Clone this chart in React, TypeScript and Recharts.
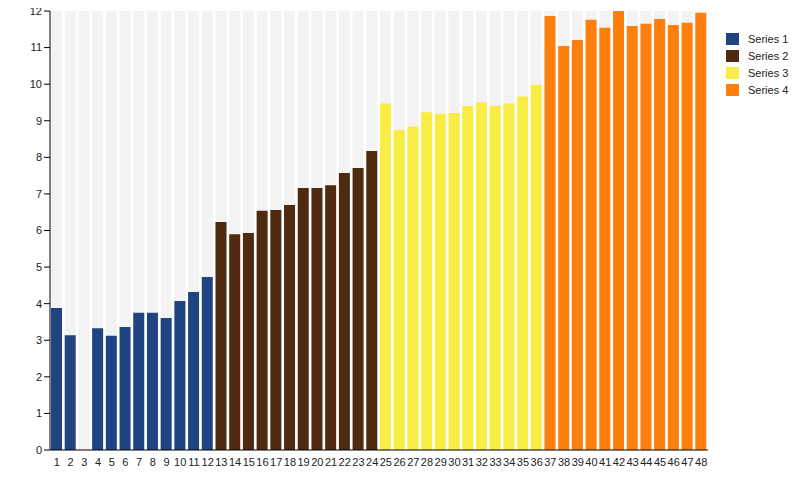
import React from 'react';
import { BarChart, Bar, XAxis, YAxis } from 'recharts';

const categories = Array.from({ length: 48 }, (_, i) => String(i + 1));

const series1 = [3.88, 3.14, null, 3.33, 3.12, 3.36, 3.75, 3.75, 3.61, 4.07, 4.32, 4.73];
const series2 = [6.23, 5.9, 5.93, 6.54, 6.56, 6.7, 7.16, 7.16, 7.24, 7.57, 7.71, 8.17];
const series3 = [9.47, 8.75, 8.84, 9.23, 9.19, 9.21, 9.4, 9.5, 9.41, 9.47, 9.66, 9.98];
const series4 = [11.86, 11.04, 11.21, 11.76, 11.54, 12.0, 11.59, 11.65, 11.78, 11.62, 11.68, 11.95];

const yMax = 12;
const yTicks = [0, 1, 2, 3, 4, 5, 6, 7, 8, 9, 10, 11, 12];

const seriesInfo = [
  { key: 's1', name: 'Series 1', color: '#1f4481', values: series1 },
  { key: 's2', name: 'Series 2', color: '#4f2a0e', values: series2 },
  { key: 's3', name: 'Series 3', color: '#f8ec45', values: series3 },
  { key: 's4', name: 'Series 4', color: '#ff7f0e', values: series4 },
];

const data = categories.map((name, i) => {
  const row: Record<string, any> = { name, bg: yMax };
  const group = Math.floor(i / 12);
  seriesInfo.forEach((s, g) => {
    row[s.key] = g === group ? s.values[i % 12] : null;
  });
  return row;
});

const font = '"Liberation Sans", Arial, sans-serif';

const App = () => {
  return (
    <div style={{ position: 'relative', width: 800, height: 477, marginTop: -7 }}>
      <BarChart
        width={800}
        height={477}
        data={data}
        margin={{ top: 10, right: 100, left: 0, bottom: 8 }}
      >
        <XAxis xAxisId="bg" dataKey="name" hide />
        <XAxis
          dataKey="name"
          tickLine={false}
          axisLine={{ stroke: '#000' }}
          tick={{ fill: '#222', fontSize: 11, fontFamily: font }}
          interval={0}
          height={20}
          tickMargin={2}
        />
        <YAxis
          width={42}
          domain={[0, yMax]}
          ticks={yTicks}
          interval={0}
          axisLine={{ stroke: '#000' }}
          tickLine={{ stroke: '#000' }}
          tickSize={6}
          tick={{ fill: '#222', fontSize: 11, fontFamily: font }}
        />
        <Bar
          xAxisId="bg"
          dataKey="bg"
          fill="#f3f3f3"
          barSize={11}
          legendType="none"
          isAnimationActive={false}
        />
        {seriesInfo.map((s) => (
          <Bar
            key={s.key}
            dataKey={s.key}
            name={s.name}
            stackId="a"
            fill={s.color}
            barSize={11}
            isAnimationActive={false}
          />
        ))}
      </BarChart>
      <div
        style={{
          position: 'absolute',
          left: 718,
          top: 29,
          fontFamily: font,
          fontSize: 11,
          color: '#222',
        }}
      >
        {seriesInfo.map((s) => (
          <div key={s.key} style={{ display: 'flex', alignItems: 'center', height: 17 }}>
            <div style={{ width: 13, height: 12, background: s.color, marginRight: 9 }} />
            <span>{s.name}</span>
          </div>
        ))}
      </div>
    </div>
  );
};

export default App;
